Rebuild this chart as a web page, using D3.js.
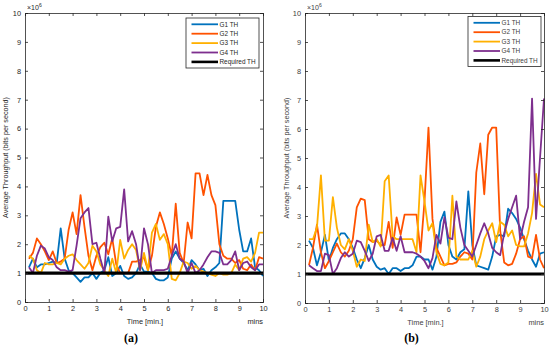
<!DOCTYPE html>
<html>
<head>
<meta charset="utf-8">
<script src="https://cdn.jsdelivr.net/npm/d3@7"></script>
<style>
  body { margin: 0; background: #fff; }
  text { font-family: "Liberation Sans", Arial, sans-serif; }
</style>
</head>
<body>
<div id="chart"></div>
<script>
// sample times (min.), one sample every 10 seconds
var times = d3.range(1, 61).map(function(i) { return i / 6; });

var seriesNames = ["G1 TH", "G2 TH", "G3 TH", "G4 TH", "Required TH"];
var seriesColors = ["#0072BD", "#FF5200", "#FFB000", "#7E2F8E", "#000000"];
var xTicks = [0, 1, 2, 3, 4, 5, 6, 7, 8, 9, 10];
var yTicks = [0, 1, 2, 3, 4, 5, 6, 7, 8, 9, 10];
var requiredTH = 1;

// panel (a), values in 10^6 bits per second
var g1a = [1.2,1.5,1.2,1.3,1.3,1.35,1.4,1.35,2.55,1.5,
           1.1,1.0,0.85,0.7,0.85,0.85,1.0,0.8,1.0,1.1,
           1.55,0.9,1.0,1.25,0.9,0.8,0.85,1.0,1.3,1.05,
           1.05,1.0,0.8,0.75,0.75,0.85,1.5,1.75,1.5,1.35,
           1.1,1.45,1.3,1.1,1.15,0.9,1.1,1.2,1.35,3.5,
           3.5,3.5,3.5,2.5,1.75,1.75,2.2,1.2,1.1,0.9];
var g2a = [1.5,1.7,2.2,2.0,1.75,1.45,1.75,1.35,1.4,1.5,
           2.5,3.1,2.35,3.7,2.6,1.6,1.1,1.6,1.9,2.05,
           1.65,2.2,1.3,1.0,1.0,1.0,1.4,1.4,1.45,1.55,
           1.1,1.6,2.6,3.1,2.7,2.2,1.6,3.4,1.7,1.35,
           2.75,2.2,4.45,4.45,3.7,4.4,3.7,3.35,2.0,1.6,
           1.5,1.5,1.35,1.45,1.15,1.1,1.3,1.1,1.55,1.5];
var g3a = [1.6,1.5,1.1,1.0,1.35,1.3,1.3,1.35,1.3,1.5,
           1.6,1.65,1.45,1.3,1.15,1.35,1.95,1.75,1.3,1.1,
           0.9,1.5,1.0,2.15,1.5,1.8,2.0,1.8,1.1,1.7,
           1.1,2.4,2.7,2.15,2.35,2.0,0.8,0.75,1.0,1.4,
           1.35,1.15,1.25,1.1,1.05,1.0,0.95,0.9,1.0,0.95,
           0.95,1.0,1.3,1.1,1.5,1.55,1.4,1.7,2.4,2.4];
var g4a = [1.2,1.0,1.6,1.95,1.85,1.55,1.45,1.2,1.1,1.1,
           1.05,1.1,1.95,2.9,3.1,3.25,2.0,2.05,1.5,1.0,
           2.95,2.1,2.55,2.6,3.9,2.1,2.45,2.0,1.1,2.55,
           2.0,1.0,1.1,1.1,1.1,1.15,1.6,2.0,1.5,1.4,
           1.0,1.35,1.0,1.1,1.3,1.55,1.75,1.75,1.7,1.3,
           1.3,1.45,1.75,1.1,1.35,1.4,1.2,1.1,1.3,1.3];

// panel (b)
var g1b = [2.15,1.9,1.3,1.75,2.35,1.45,1.9,2.2,2.4,2.4,
           2.2,1.9,1.5,1.2,1.55,2.0,1.5,1.25,1.15,1.2,
           1.0,1.2,1.2,1.1,1.2,1.2,1.3,1.6,1.6,1.5,
           1.5,1.15,1.6,2.8,3.15,2.0,1.6,1.5,1.75,1.85,
           3.85,2.0,1.3,1.25,1.2,1.15,1.6,2.3,2.35,2.3,
           3.25,3.1,2.9,2.6,2.2,1.8,1.5,1.25,1.7,1.75];
var g2b = [1.3,1.9,2.7,1.75,1.2,1.45,1.75,2.05,1.75,1.6,
           1.8,2.2,3.3,3.6,3.55,2.2,2.1,2.15,2.0,2.0,
           2.8,1.9,2.95,2.35,3.05,3.05,3.05,3.05,1.75,3.5,
           6.05,2.9,1.9,1.6,1.3,1.35,1.35,1.4,1.6,1.75,
           1.7,1.5,4.5,5.5,3.75,5.8,6.05,6.05,2.5,1.4,
           1.3,1.35,1.7,2.2,2.3,1.6,1.55,2.35,1.5,1.2];
var g3b = [2.2,2.2,2.6,4.4,2.15,2.15,3.65,2.6,2.0,1.85,
           2.2,1.8,1.25,1.5,1.45,2.7,2.1,2.2,1.95,4.2,
           4.4,2.3,2.2,2.2,2.2,2.2,2.2,1.75,4.4,3.5,
           2.5,2.75,1.75,1.35,1.3,1.4,3.7,1.6,1.5,1.5,
           1.5,1.8,1.25,1.6,2.2,2.5,2.75,2.1,2.8,2.7,
           2.3,2.5,2.0,1.95,1.95,2.4,3.1,4.45,3.4,3.3];
var g4b = [1.3,1.2,1.1,1.1,1.7,1.65,1.0,1.2,1.55,1.75,
           1.6,1.7,2.15,2.1,1.8,1.45,1.7,2.3,2.35,1.8,
           1.8,2.25,1.8,2.3,1.75,1.75,1.75,1.7,1.6,1.45,
           1.2,1.55,2.35,2.05,2.95,2.25,2.2,3.5,2.6,2.0,
           1.8,1.6,2.0,2.4,2.75,2.4,1.9,1.75,1.65,2.4,
           2.9,3.3,3.7,2.2,2.8,3.3,7.05,2.9,5.0,7.05];

var width = 550, height = 348;

var svg = d3.select("#chart").append("svg")
    .attr("width", width)
    .attr("height", height);

function drawPanel(p) {
    var x = d3.scaleLinear().domain([0, 10]).range([p.left, p.right]);
    var y = d3.scaleLinear().domain([0, 10]).range([p.bottom, p.top]);
    var g = svg.append("g");

    // plot background
    g.append("rect")
        .attr("x", p.left).attr("y", p.top)
        .attr("width", p.right - p.left).attr("height", p.bottom - p.top)
        .attr("fill", "#fff");

    // series lines
    var line = d3.line()
        .x(function(d, i) { return x(times[i]); })
        .y(function(d) { return y(d); });

    p.series.forEach(function(s, i) {
        g.append("path")
            .datum(s)
            .attr("fill", "none")
            .attr("stroke", seriesColors[i])
            .attr("stroke-width", 1.8)
            .attr("stroke-linejoin", "round")
            .attr("d", line);
    });

    // required throughput
    g.append("line")
        .attr("x1", x(0)).attr("x2", x(10))
        .attr("y1", y(requiredTH)).attr("y2", y(requiredTH))
        .attr("stroke", "#000")
        .attr("stroke-width", 3.2);

    // axes, ticks inward on all four sides
    var axisColor = "#262626";
    var tl = 3;
    var xa = g.append("g").attr("transform", "translate(0," + p.bottom + ")")
        .call(d3.axisBottom(x).tickValues(xTicks).tickSize(-tl).tickPadding(4));
    var xt = g.append("g").attr("transform", "translate(0," + p.top + ")")
        .call(d3.axisTop(x).tickValues(xTicks).tickSize(-tl).tickFormat(""));
    var ya = g.append("g").attr("transform", "translate(" + p.left + ",0)")
        .call(d3.axisLeft(y).tickValues(yTicks).tickSize(-tl).tickPadding(4));
    var yr = g.append("g").attr("transform", "translate(" + p.right + ",0)")
        .call(d3.axisRight(y).tickValues(yTicks).tickSize(-tl).tickFormat(""));

    [xa, xt, ya, yr].forEach(function(a) {
        a.select(".domain").attr("stroke", axisColor).attr("stroke-width", 0.8);
        a.selectAll(".tick line").attr("stroke", axisColor).attr("stroke-width", 0.8);
        a.selectAll(".tick text")
            .attr("fill", p.textColor)
            .style("font-size", "7.4px")
            .style("font-family", "Liberation Sans, Arial, sans-serif");
    });

    // exponent label
    var ex = g.append("text")
        .attr("x", p.left + 2).attr("y", p.top - 3)
        .attr("fill", p.textColor)
        .style("font-size", "7px")
        .text("\u00d710");
    ex.append("tspan")
        .attr("dy", -3)
        .style("font-size", "5px")
        .text("6");

    // axis labels
    g.append("text")
        .attr("x", (p.left + p.right) / 2 + 1)
        .attr("y", p.bottom + 22)
        .attr("text-anchor", "middle")
        .attr("fill", p.textColor)
        .style("font-size", "7.4px")
        .text("Time [min.]");
    g.append("text")
        .attr("x", p.right)
        .attr("y", p.bottom + 22)
        .attr("text-anchor", "end")
        .attr("fill", p.textColor)
        .style("font-size", "7.4px")
        .text("mins");
    g.append("text")
        .attr("transform", "translate(" + p.ylabelX + "," + ((p.top + p.bottom) / 2) + ") rotate(-90)")
        .attr("text-anchor", "middle")
        .attr("fill", p.textColor)
        .style("font-size", "7.2px")
        .text("Average Throughput (bits per second)");

    // panel caption
    g.append("text")
        .attr("x", (p.left + p.right) / 2 - 13)
        .attr("y", 342)
        .attr("text-anchor", "middle")
        .attr("fill", "#000")
        .style("font-family", "Liberation Serif, Times New Roman, serif")
        .style("font-weight", "bold")
        .style("font-size", "12px")
        .text(p.caption);

    // legend
    var lg = g.append("g").attr("transform", "translate(" + p.legendX + "," + p.legendY + ")");
    lg.append("rect")
        .attr("x", 0).attr("y", 0)
        .attr("width", p.legendW).attr("height", 50)
        .attr("fill", "#fff")
        .attr("stroke", axisColor)
        .attr("stroke-width", 0.8);
    seriesNames.forEach(function(name, i) {
        var ly = 6.3 + i * 9.4;
        lg.append("line")
            .attr("x1", 5.5).attr("x2", 32)
            .attr("y1", ly).attr("y2", ly)
            .attr("stroke", seriesColors[i])
            .attr("stroke-width", i == 4 ? 2.6 : 1.8);
        lg.append("text")
            .attr("x", 33.5).attr("y", ly + 2.2)
            .attr("fill", p.textColor)
            .style("font-size", "6.4px")
            .text(name);
    });
}

drawPanel({
    left: 25, right: 263, top: 13, bottom: 302,
    series: [g1a, g2a, g3a, g4a],
    ylabelX: 8, caption: "(a)", textColor: "#262626",
    legendX: 186, legendY: 18, legendW: 73
});

drawPanel({
    left: 305, right: 544, top: 13, bottom: 303,
    series: [g1b, g2b, g3b, g4b],
    ylabelX: 289, caption: "(b)", textColor: "#404040",
    legendX: 468, legendY: 16.5, legendW: 73
});
</script>
</body>
</html>
